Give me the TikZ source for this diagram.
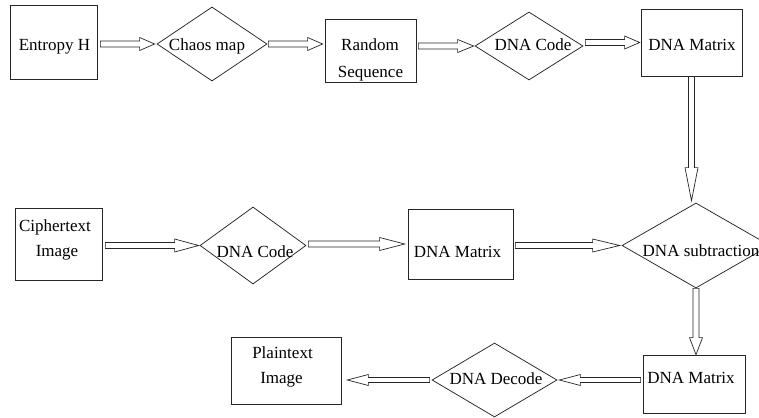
\documentclass[tikz,border=0pt]{standalone}
\usepackage{fontspec}
\setmainfont{Liberation Serif}
\usetikzlibrary{shapes.geometric,calc}

% hollow block arrow drawn as an outline polygon between two points
\newcommand{\arrhl}{16pt}
\newcommand{\arrsw}{3pt}
\newcommand{\arrhw}{6.5pt}
\tikzset{
  headlen/.store in=\arrhl,
  shaftw/.store in=\arrsw,
  headw/.store in=\arrhw,
  hollow/.style={draw=black!85, line width=0.7pt, line join=miter,
    to path={let \p1=(\tikztostart), \p2=(\tikztotarget),
                 \p3=($(\p2)!\arrhl!(\p1)$) in
      ($(\p1)!\arrsw!90:(\p2)$) -- ($(\p3)!\arrsw!-90:(\p1)$)
      -- ($(\p3)!\arrhw!-90:(\p1)$) -- (\p2)
      -- ($(\p3)!\arrhw!90:(\p1)$) -- ($(\p3)!\arrsw!90:(\p1)$)
      -- ($(\p1)!\arrsw!-90:(\p2)$) -- cycle}},
  boxnode/.style={draw=black!85, line width=0.75pt, rectangle, inner sep=0pt},
  decnode/.style={draw=black!85, line width=0.75pt, diamond, inner sep=0pt},
  lbl/.style={anchor=base, inner sep=0pt, text=black,
    font=\fontsize{17pt}{26pt}\selectfont},
}

\begin{document}
\begin{tikzpicture}[x=1pt, y=-1pt]
\useasboundingbox (0,0) rectangle (759,417);
\clip (0,0) rectangle (759,417);
\fill[white] (0,0) rectangle (759,417);

% ---- top row ----
\node[boxnode, minimum width=87pt, minimum height=74pt] (ent) at (53.5,42) {};
\node[lbl] (tent) at (54.5,51) {Entropy H};

\node[decnode, minimum width=110pt, minimum height=74pt] (chaos) at (212,44) {};
\node[lbl] (tchaos) at (207,51) {Chaos map};

\node[boxnode, minimum width=91pt, minimum height=63pt] (rand) at (370.5,50.5) {};
\node[lbl] (trand1) at (370,51) {Random};
\node[lbl] (trand2) at (370.5,78) {Sequence};

\node[decnode, minimum width=108pt, minimum height=68pt] (codeA) at (529,46) {};
\node[lbl] (tcodeA) at (533,51) {DNA Code};

\node[boxnode, minimum width=101pt, minimum height=67pt] (matA) at (691.5,42.5) {};
\node[lbl] (tmatA) at (692,51) {DNA Matrix};

% ---- middle row ----
\node[boxnode, minimum width=87pt, minimum height=72pt] (ciph) at (58.5,244) {};
\node[lbl] (tciph1) at (55,231) {Ciphertext};
\node[lbl] (tciph2) at (57,256) {Image};

\node[decnode, minimum width=106pt, minimum height=77pt] (codeB) at (253,245.5) {};
\node[lbl] (tcodeB) at (255,257) {DNA Code};

\node[boxnode, minimum width=105pt, minimum height=70pt] (matB) at (460.5,244) {};
\node[lbl] (tmatB) at (457.5,257) {DNA Matrix};

\node[decnode, minimum width=148pt, minimum height=85pt] (sub) at (696,245.5) {};
\node[lbl] (tsub) at (701,256) {DNA subtraction};

% ---- bottom row ----
\node[boxnode, minimum width=102pt, minimum height=58pt] (matC) at (694,384) {};
\node[lbl] (tmatC) at (691,383) {DNA Matrix};

\node[decnode, minimum width=125pt, minimum height=74pt] (dec) at (494.5,380) {};
\node[lbl] (tdec) at (496,384) {DNA Decode};

\node[boxnode, minimum width=110pt, minimum height=67pt] (plain) at (286,370.5) {};
\node[lbl] (tplain1) at (282.5,358) {Plaintext};
\node[lbl] (tplain2) at (281.5,383) {Image};

% ---- connectors ----
\draw[hollow, headlen=15pt] ([xshift=3pt]ent.east |- chaos.west) to ([xshift=-2pt]chaos.west);
\draw[hollow, headlen=15pt] ([xshift=1pt]chaos.east) to ([xshift=-2pt]rand.west |- chaos.east);
\draw[hollow, headlen=16pt] ([xshift=2pt]rand.east |- codeA.west) to ([xshift=-1pt]codeA.west);
\draw[hollow, headlen=15pt] ([xshift=2pt]codeA.east |- matA.west) to ([xshift=-1pt]matA.west);
\draw[hollow, headlen=33pt] (matA.south) to ([yshift=2pt]matA.south |- sub.north);

\draw[hollow, headlen=24pt] ([xshift=3pt]ciph.east |- codeB.west) to ([xshift=-1pt]codeB.west);
\draw[hollow, headlen=25pt] ([xshift=2pt]codeB.east |- matB.west) to ([xshift=-3pt]matB.west);
\draw[hollow, headlen=27pt] ([xshift=2pt]matB.east |- sub.west) to ([xshift=-2pt]sub.west);
\draw[hollow, headlen=17pt] (sub.south) to (sub.south |- matC.north);

\draw[hollow, headlen=21pt, shaftw=2.5pt, headw=5.5pt] ([xshift=-2pt]matC.west |- dec.east) to ([xshift=2pt]dec.east);
\draw[hollow, headlen=21pt, shaftw=2.5pt, headw=5.5pt] ([xshift=-2pt]dec.west) to ([xshift=6pt]plain.east |- dec.west);
\end{tikzpicture}
\end{document}
